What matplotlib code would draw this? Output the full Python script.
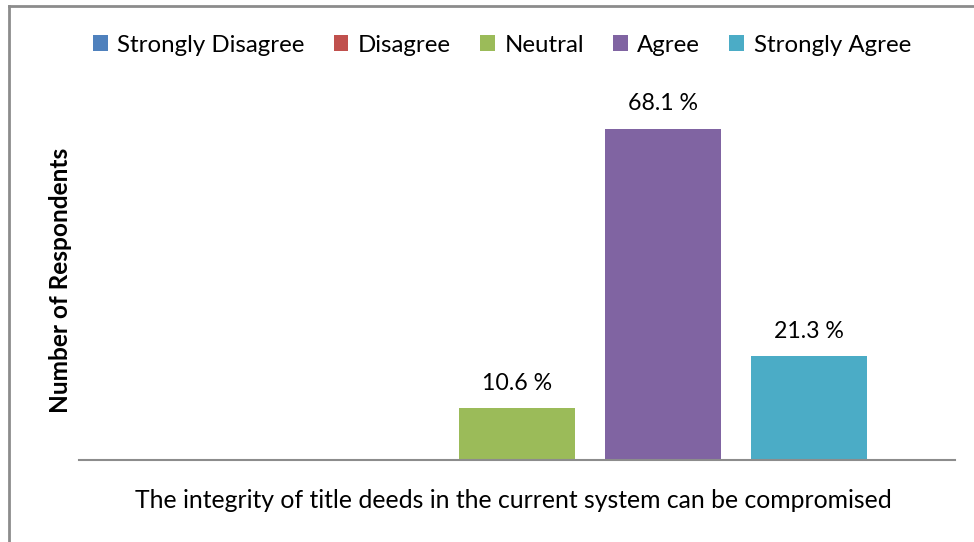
import matplotlib.pyplot as plt
from matplotlib.lines import Line2D
from matplotlib.patches import Patch

plt.rcParams['font.family'] = ['Lato', 'DejaVu Sans']

categories = ['Strongly Disagree', 'Disagree', 'Neutral', 'Agree', 'Strongly Agree']
percent = [0, 0, 10.6, 68.1, 21.3]
colors = ['#4f81bd', '#c0504d', '#9bbb59', '#8064a2', '#4bacc6']

fig = plt.figure(figsize=(9.74, 5.42), dpi=100)
ax = fig.add_axes([79 / 974, 1 - 460 / 542, 876 / 974, 389 / 542])

x = list(range(len(categories)))
bars = ax.bar(x, percent, width=0.8, color=colors)
for b, v in zip(bars, percent):
    if v > 0:
        ax.text(b.get_x() + b.get_width() / 2, v + 3.0, '%.1f %%' % v,
                ha='center', va='bottom', fontsize=16.7, color='#000000')

ax.set_xlim(-1, 5)
ax.set_ylim(0, 80)
ax.set_xticks([])
ax.set_yticks([])
for s in ['top', 'right', 'left']:
    ax.spines[s].set_visible(False)
ax.spines['bottom'].set_color('#8c8c8c')
ax.spines['bottom'].set_linewidth(1.5)

fig.text(61 / 974, 1 - 280 / 542, 'Number of Respondents', rotation=90,
         ha='center', va='center', fontsize=17.6, fontweight='bold')
fig.text(513 / 974, 1 - 501 / 542,
         'The integrity of title deeds in the current system can be compromised',
         ha='center', va='center', fontsize=17.8)

handles = [Patch(facecolor=c, edgecolor='none') for c in colors]
fig.legend(handles, categories, loc='center', bbox_to_anchor=(502 / 974, 1 - 45 / 542),
           ncol=5, frameon=False, fontsize=17.3, handlelength=0.6, handleheight=0.6,
           handletextpad=0.4, columnspacing=1.22)

# frame around the chart (left and top edges)
fig.add_artist(Line2D([9 / 974, 9 / 974], [0, 1 - 6 / 542], transform=fig.transFigure,
                      color='#8c8c8c', linewidth=2))
fig.add_artist(Line2D([9 / 974, 1], [1 - 6 / 542, 1 - 6 / 542], transform=fig.transFigure,
                      color='#8c8c8c', linewidth=2))

fig.savefig('out.png', dpi=100)
